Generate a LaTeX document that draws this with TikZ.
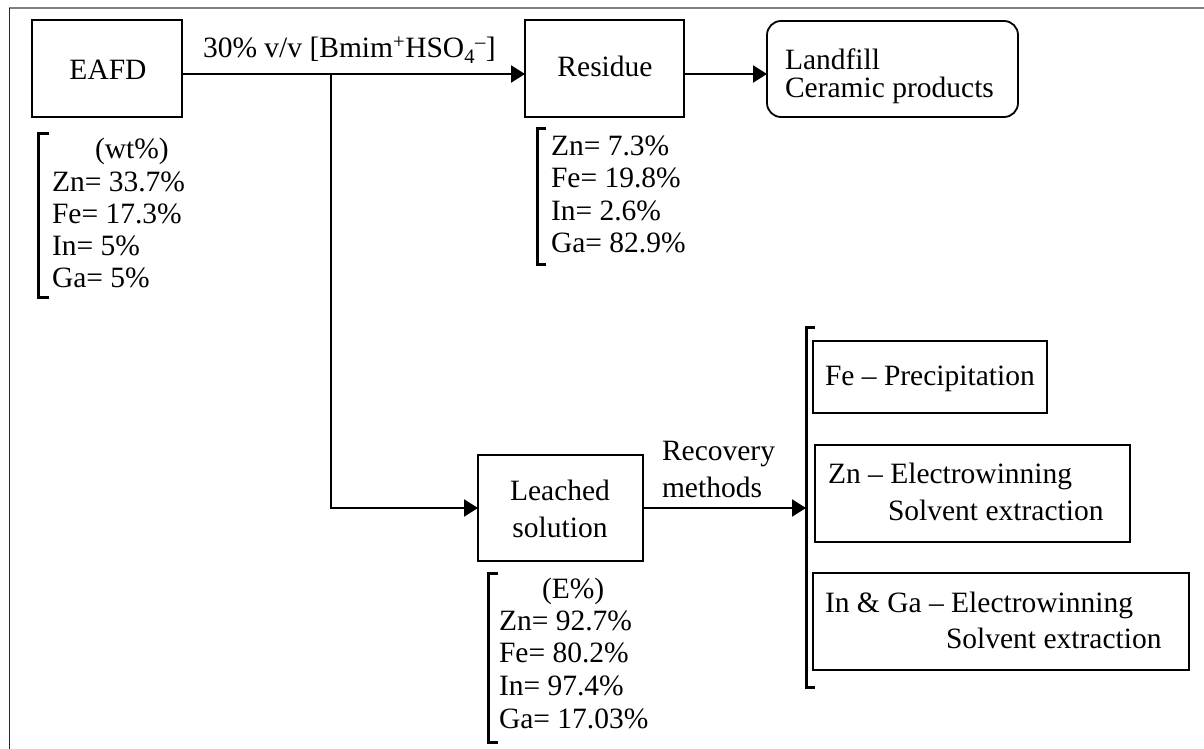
\documentclass[tikz,border=0pt]{standalone}
\usepackage{fontspec}
\setmainfont{Liberation Serif}
\usetikzlibrary{arrows.meta}
\tikzset{
  every node/.style={font=\fontsize{29.5}{33}\selectfont, inner sep=0pt, outer sep=0pt},
  box/.style={draw, line width=1.8pt},
  arr/.style={line width=2.2pt, -{Triangle[length=14pt,width=17pt]}},
  brk/.style={line width=3pt},
  txt/.style={anchor=base west},
  ctxt/.style={anchor=base},
}
\begin{document}
\begin{tikzpicture}[x=1pt,y=-1pt]
\useasboundingbox (0,0) rectangle (1204,749);
% frame
\draw[gray, line width=2pt] (9,8) -- (1204,8);
\draw[black!85, line width=1pt] (9.5,8) -- (9.5,749);

% boxes
\node[box, minimum width=150pt, minimum height=97pt] (eafd) at (107,68.5) {};
\node[ctxt] (eafdt) at (108,80) {EAFD};
\node[box, minimum width=159pt, minimum height=97pt] (res) at (604.5,68.5) {};
\node[ctxt] (rest) at (605,77) {Residue};
\node[box, rounded corners=14pt, minimum width=251pt, minimum height=96pt] (land) at (892.5,69) {};
\node[txt] (land1) at (785,70) {Landfill};
\node[txt] (land2) at (785,98) {Ceramic products};
\node[box, minimum width=165pt, minimum height=106pt] (leach) at (560.5,508) {};
\node[ctxt] (leach1) at (560,500) {Leached};
\node[ctxt] (leach2) at (560,537) {solution};
\node[box, minimum width=234pt, minimum height=72pt] (fe) at (930,377) {};
\node[txt] (fet) at (825,385) {Fe – Precipitation};
\node[box, minimum width=315pt, minimum height=97pt] (zn) at (972.5,493.5) {};
\node[txt] (zn1) at (828,483) {Zn – Electrowinning};
\node[txt] (zn2) at (888,520) {Solvent extraction};
\node[box, minimum width=376pt, minimum height=97pt] (ing) at (1001,621.5) {};
\node[txt] (ing1) at (825,612) {In \& Ga – Electrowinning};
\node[txt] (ing2) at (946,648) {Solvent extraction};

% labels
\node[txt] (lab) at (203,58) {30\% v/v [Bmim\textsuperscript{+}HSO\textsubscript{4}\textsuperscript{–}]};
\node[txt] (rec1) at (662,460) {Recovery};
\node[txt] (rec2) at (662,497) {methods};

% connectors
\coordinate (j) at (331,74);
\coordinate (rb) at (806,508);
\draw[arr] (eafd.east |- j) -- (res.west |- j);
\draw[arr] (j) |- (leach.west);
\draw[arr] (res.east |- j) -- (land.west |- j);
\draw[arr] (leach.east) -- (rb);

% brackets
\draw[brk] (49,134) -- (38,134) -- (38,297) -- (49,297);
\draw[brk] (546,129) -- (537,129) -- (537,264) -- (546,264);
\draw[brk] (498,573) -- (488,573) -- (488,742) -- (498,742);
\draw[brk] (815,327) -- (806,327) -- (806,687) -- (815,687);

% lists
\node[txt] (e0) at (95,158) {(wt\%)};
\node[txt] (e1) at (52,191) {Zn= 33.7\%};
\node[txt] (e2) at (52,223) {Fe= 17.3\%};
\node[txt] (e3) at (52,255) {In= 5\%};
\node[txt] (e4) at (52,287) {Ga= 5\%};

\node[txt] (r1) at (551,155) {Zn= 7.3\%};
\node[txt] (r2) at (551,187) {Fe= 19.8\%};
\node[txt] (r3) at (551,220) {In= 2.6\%};
\node[txt] (r4) at (551,252) {Ga= 82.9\%};

\node[txt] (l0) at (542,598) {(E\%)};
\node[txt] (l1) at (499,630) {Zn= 92.7\%};
\node[txt] (l2) at (499,662) {Fe= 80.2\%};
\node[txt] (l3) at (499,695) {In= 97.4\%};
\node[txt] (l4) at (499,728) {Ga= 17.03\%};
\end{tikzpicture}
\end{document}
